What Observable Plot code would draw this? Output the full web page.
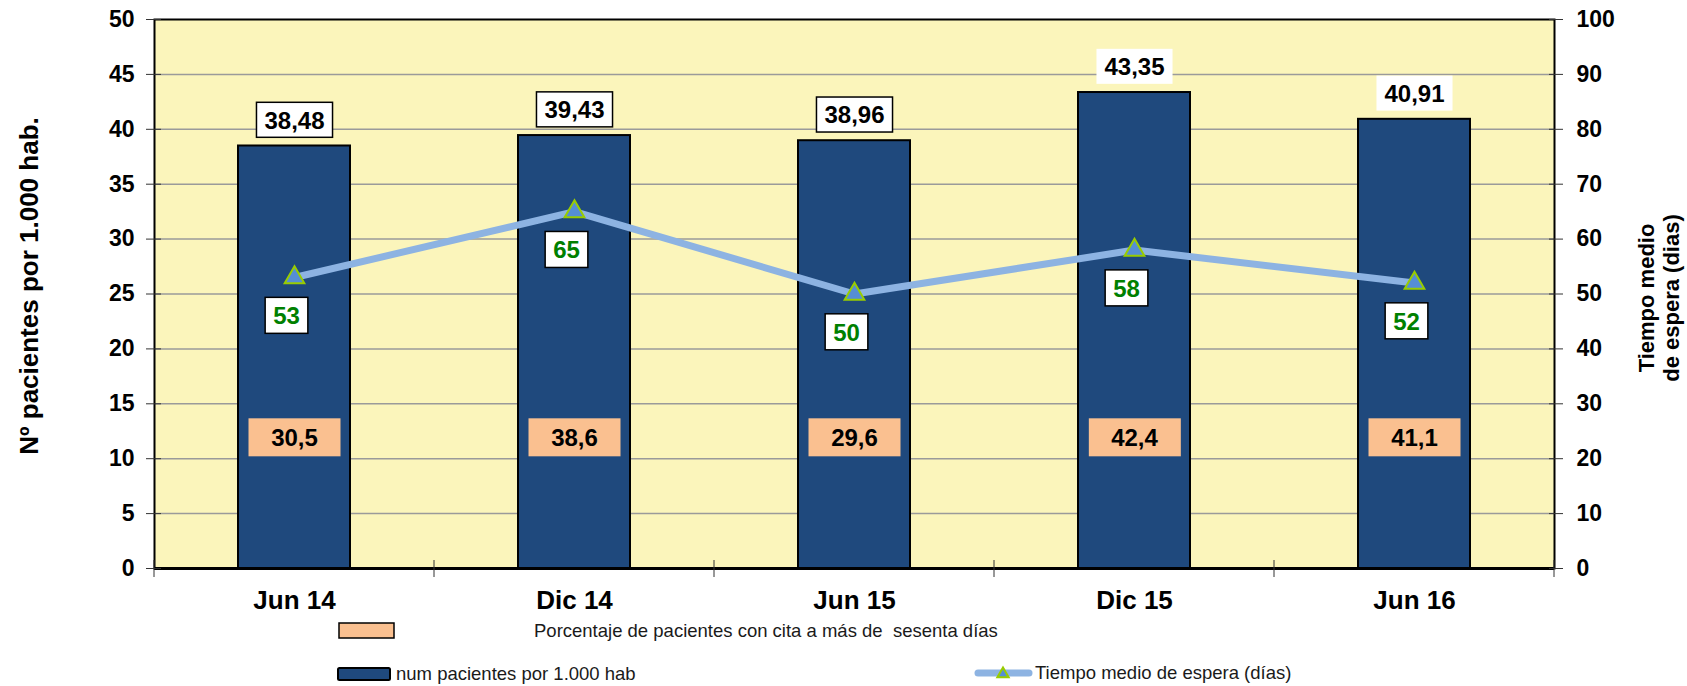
<!DOCTYPE html>
<html>
<head>
<meta charset="utf-8">
<script src="https://cdn.jsdelivr.net/npm/d3@7"></script>
<script src="https://cdn.jsdelivr.net/npm/@observablehq/plot@0.6"></script>
<style>
  body { margin: 0; background: #fff; }
  #legend text { white-space: pre; }
</style>
</head>
<body>
<div id="chart"></div>
<script>
// ---- data ----
const categories = ["Jun 14", "Dic 14", "Jun 15", "Dic 15", "Jun 16"];
const pacientes = [38.48, 39.43, 38.96, 43.35, 40.91];      // left axis (bars)
const porcentaje = [30.5, 38.6, 29.6, 42.4, 41.1];          // orange labels
const dias = [53, 65, 50, 58, 52];                           // right axis (line)
const leftTicks = [0, 5, 10, 15, 20, 25, 30, 35, 40, 45, 50];
const rightTicks = [0, 10, 20, 30, 40, 50, 60, 70, 80, 90, 100];
const titleLeft = "Nº pacientes por 1.000 hab.";
const titleRight = "Tiempo medio\nde espera (dias)";
const legendPct = "Porcentaje de pacientes con cita a más de  sesenta días";
const legendBars = "num pacientes por 1.000 hab";
const legendLine = "Tiempo medio de espera (días)";

const data = categories.map((c, i) => ({cat: c, pacientes: pacientes[i], pct: porcentaje[i], dias: dias[i]}));
const leftMax = 50, rightMax = 100;
const toLeft = v => v * leftMax / rightMax;   // right-axis value -> left-axis units
const comma = (v, n) => v.toFixed(n).replace(".", ",");

const FONT = "'Liberation Sans', Arial, Helvetica, sans-serif";
const BG = "#FBF5BB", NAVY = "#1F497D", ORANGE = "#FAC090", LINE = "#8DB3E2",
      TRI = "#558ED5", TRI_STROKE = "#99CC00", GREEN = "#008000";

const plot = Plot.plot({
  width: 1687, height: 615,
  marginLeft: 154, marginRight: 133, marginTop: 19, marginBottom: 47,
  style: {fontFamily: FONT, background: "#fff", color: "#000", overflow: "visible"},
  x: {type: "band", domain: categories, paddingInner: 0.6, paddingOuter: 0.3, label: null},
  y: {domain: [0, leftMax], label: null},
  marks: [
    Plot.frame({fill: BG, stroke: null}),
    Plot.gridY(leftTicks.filter(d => d > 0 && d < leftMax), {stroke: "#9a9a9a", strokeOpacity: 1, strokeWidth: 1.5}),
    Plot.barY(data, {x: "cat", y: "pacientes", fill: NAVY, stroke: "#000", strokeWidth: 2}),
    Plot.line(data, {x: "cat", y: d => toLeft(d.dias), stroke: LINE, strokeWidth: 7}),
    Plot.dot(data, {x: "cat", y: d => toLeft(d.dias), symbol: "triangle", r: 7.3, fill: TRI, stroke: TRI_STROKE, strokeWidth: 2}),
    Plot.text(data, {x: "cat", y: "pacientes", text: d => comma(d.pacientes, 2), dy: -25,
      fontSize: 24, fontWeight: "bold", fill: "#000", ariaDescription: "bar-values"}),
    Plot.text(data, {x: "cat", y: d => toLeft(d.dias), text: d => String(d.dias), dx: -8, dy: 39,
      fontSize: 24, fontWeight: "bold", fill: GREEN, ariaDescription: "line-values"}),
    Plot.text(data, {x: "cat", frameAnchor: "bottom", lineAnchor: "middle", dy: -130, text: d => comma(d.pct, 1),
      fontSize: 24, fontWeight: "bold", fill: "#000", ariaDescription: "pct-values"}),
    Plot.ruleY([0], {stroke: "#000", strokeWidth: 3}),
    Plot.frame({stroke: "#000", strokeWidth: 2}),
    // left axis
    Plot.axisY(leftTicks, {anchor: "left", tickSize: 15, dx: 7, tickFormat: () => "", stroke: "#333", label: null}),
    Plot.axisY(leftTicks, {anchor: "left", tickSize: 0, tickPadding: 20, fontSize: 23, fontWeight: "bold", label: null}),
    // right axis
    Plot.axisY(rightTicks.map(toLeft), {anchor: "right", tickSize: 14, dx: -6, tickFormat: () => "", stroke: "#333", label: null}),
    Plot.axisY(rightTicks.map(toLeft), {anchor: "right", tickSize: 0, tickPadding: 22,
      tickFormat: d => String(Math.round(d * rightMax / leftMax)), fontSize: 23, fontWeight: "bold", label: null}),
    // x axis
    Plot.axisX({tickSize: 0, tickPadding: 22, fontSize: 26, fontWeight: "bold", label: null}),
    // titles
    Plot.text([titleLeft], {text: d => d, frameAnchor: "left", textAnchor: "middle", lineAnchor: "middle",
      rotate: -90, dx: -125, dy: -8, fontSize: 26, fontWeight: "bold", fill: "#000"}),
    Plot.text([titleRight], {text: d => d, frameAnchor: "right", textAnchor: "middle", lineAnchor: "middle",
      rotate: -90, dx: 104, dy: 4, fontSize: 22, fontWeight: "bold", lineHeight: 1.15, fill: "#000"})
  ]
});

document.getElementById("chart").append(plot);
const svg = d3.select(plot);

// label boxes drawn behind the text elements
const borderless = new Set(["Dic 15", "Jun 16"]);
function boxes(label, {padX = 8, w = null, h, fill, stroke, strokeWidth = 1.5, skipStroke = () => false}) {
  svg.selectAll(`g[aria-description="${label}"] text`).each(function(_, i) {
    const t = this;
    const bb = t.getBBox();
    const fs = parseFloat(getComputedStyle(t).fontSize);
    const cx = bb.x + bb.width / 2;
    const cy = bb.y + 0.547 * fs;
    const width = w ?? bb.width + 2 * padX;
    const r = document.createElementNS("http://www.w3.org/2000/svg", "rect");
    r.setAttribute("x", cx - width / 2);
    r.setAttribute("y", cy - h / 2);
    r.setAttribute("width", width);
    r.setAttribute("height", h);
    r.setAttribute("fill", fill);
    if (stroke && !skipStroke(i)) {
      r.setAttribute("stroke", stroke);
      r.setAttribute("stroke-width", strokeWidth);
    } else r.setAttribute("stroke", "none");
    const tr = t.getAttribute("transform");
    if (tr) r.setAttribute("transform", tr);
    t.parentNode.insertBefore(r, t);
  });
}
boxes("bar-values", {padX: 8, h: 35, fill: "#fff", stroke: "#000", skipStroke: i => borderless.has(data[i].cat)});
boxes("line-values", {padX: 8, h: 36, fill: "#fff", stroke: "#000"});
boxes("pct-values", {w: 92, h: 38, fill: ORANGE, stroke: null});

// category boundary ticks on the x axis
const xs = plot.scale("x"), ys = plot.scale("y");
const step = xs.step ?? (xs.apply(categories[1]) - xs.apply(categories[0]));
const bw = xs.bandwidth;
const gap = step - bw;
const bounds = categories.map(c => xs.apply(c) - gap / 2);
bounds.push(xs.apply(categories[categories.length - 1]) + bw + gap / 2);
const y0 = ys.apply(0);
svg.append("g").selectAll("line").data(bounds).join("line")
  .attr("x1", d => d).attr("x2", d => d)
  .attr("y1", y0 - 8).attr("y2", y0 + 9)
  .attr("stroke", "#333").attr("stroke-width", 1);

// legend below the chart
const leg = d3.select("body").append("svg")
  .attr("id", "legend").attr("width", 1687).attr("height", 71)
  .style("display", "block").style("font-family", FONT);
leg.append("rect").attr("x", 339).attr("y", 8).attr("width", 55).attr("height", 15)
  .attr("fill", ORANGE).attr("stroke", "#000").attr("stroke-width", 1.5);
leg.append("text").attr("x", 534).attr("y", 22).attr("font-size", 18.5).attr("fill", "#1a1a1a").text(legendPct);
leg.append("rect").attr("x", 338).attr("y", 53).attr("width", 52).attr("height", 12).attr("rx", 1.5)
  .attr("fill", NAVY).attr("stroke", "#000").attr("stroke-width", 2);
leg.append("text").attr("x", 396).attr("y", 65).attr("font-size", 18.5).attr("fill", "#1a1a1a").text(legendBars);
leg.append("line").attr("x1", 978).attr("x2", 1029).attr("y1", 58).attr("y2", 58)
  .attr("stroke", LINE).attr("stroke-width", 7).attr("stroke-linecap", "round");
leg.append("path").attr("d", d3.symbol(d3.symbolTriangle, 55)()).attr("transform", "translate(1003,59)")
  .attr("fill", TRI).attr("stroke", TRI_STROKE).attr("stroke-width", 2);
leg.append("text").attr("x", 1035).attr("y", 64).attr("font-size", 18.5).attr("fill", "#1a1a1a").text(legendLine);
</script>
</body>
</html>
